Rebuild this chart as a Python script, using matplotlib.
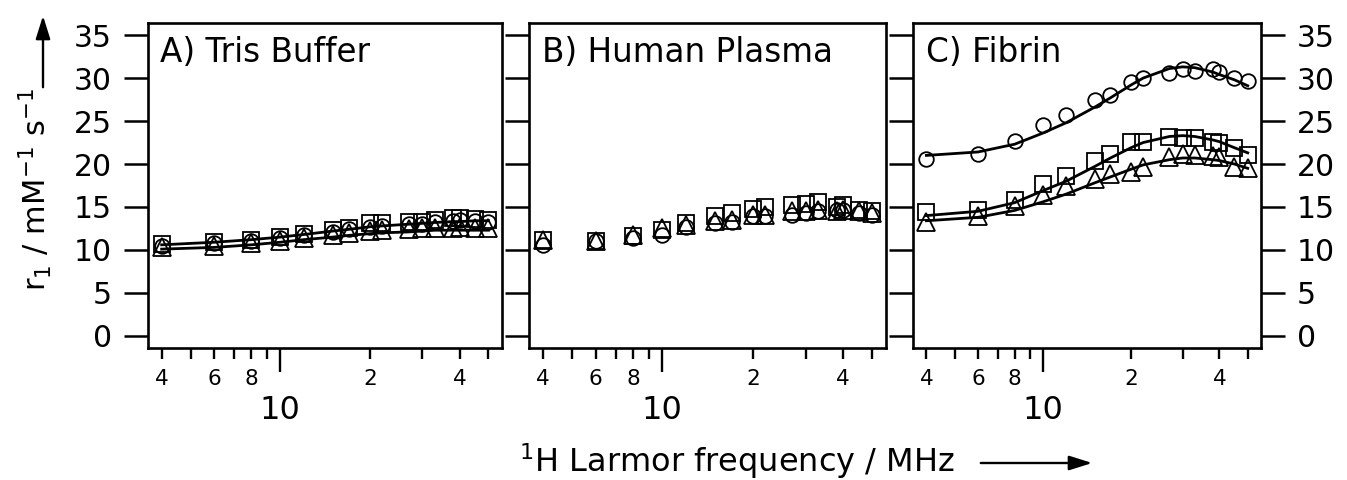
import matplotlib.pyplot as plt
from matplotlib.patches import FancyArrowPatch
from matplotlib.ticker import NullLocator

# --- data (MHz, r1 in mM^-1 s^-1) ---
freq = [4, 6, 8, 10, 12, 15, 17, 20, 22, 27, 30, 33, 38, 40, 45, 50]

# A) Tris buffer
tris_circ = [10.5, 10.8, 11.1, 11.4, 11.7, 12.1, 12.4, 12.7, 12.8, 13.0, 13.0, 13.2, 13.4, 13.5, 13.4, 13.3]
tris_sq = [10.7, 10.9, 11.2, 11.5, 11.9, 12.3, 12.6, 13.1, 13.1, 13.3, 13.2, 13.5, 13.7, 13.7, 13.6, 13.5]
tris_tri = [10.4, 10.5, 10.8, 11.1, 11.4, 11.7, 12.0, 12.2, 12.3, 12.4, 12.5, 12.6, 12.6, 12.7, 12.6, 12.6]
tris_fit_hi = [10.6, 10.9, 11.2, 11.5, 11.8, 12.2, 12.4, 12.7, 12.8, 13.0, 13.1, 13.2, 13.3, 13.3, 13.4, 13.4]
tris_fit_lo = [10.1, 10.3, 10.6, 10.9, 11.2, 11.5, 11.7, 11.9, 12.0, 12.1, 12.2, 12.3, 12.3, 12.3, 12.3, 12.3]

# B) Human plasma
plas_circ = [10.6, 11.0, 11.4, 11.8, 12.7, 13.1, 13.3, 14.0, 13.9, 14.1, 14.3, 14.5, 14.7, 14.7, 14.3, 14.1]
plas_sq = [11.2, 11.1, 11.6, 12.3, 13.1, 13.9, 14.3, 14.8, 15.0, 15.2, 15.4, 15.6, 15.0, 15.2, 14.7, 14.5]
plas_tri = [11.2, 11.1, 11.7, 12.5, 12.9, 13.4, 13.5, 14.1, 14.1, 14.5, 14.5, 14.7, 14.5, 14.7, 14.5, 14.3]

# C) Fibrin
fib_circ = [20.6, 21.2, 22.7, 24.5, 25.7, 27.5, 28.0, 29.5, 30.0, 30.6, 31.0, 30.8, 31.0, 30.7, 30.0, 29.7]
fib_sq = [14.4, 14.7, 15.8, 17.7, 18.6, 20.3, 21.2, 22.6, 22.6, 23.1, 23.0, 23.0, 22.6, 22.4, 21.9, 21.0]
fib_tri = [13.3, 13.9, 15.1, 16.4, 17.4, 18.3, 18.8, 19.1, 19.6, 20.8, 21.2, 21.0, 20.9, 20.8, 19.7, 19.5]
fib_circ_fit = [21.0, 21.4, 22.3, 23.6, 24.8, 26.6, 27.7, 29.2, 30.0, 31.1, 31.3, 31.2, 30.7, 30.4, 29.8, 29.1]
fib_sq_fit = [14.0, 14.5, 15.5, 16.9, 18.0, 19.7, 20.7, 21.9, 22.5, 23.2, 23.3, 23.2, 22.8, 22.6, 21.9, 21.3]
fib_tri_fit = [13.4, 13.8, 14.6, 15.6, 16.5, 17.8, 18.5, 19.4, 19.9, 20.5, 20.7, 20.7, 20.5, 20.4, 20.0, 19.5]

panel_titles = ["A) Tris Buffer", "B) Human Plasma", "C) Fibrin"]
minor_ticks = [4, 5, 6, 7, 8, 9, 20, 30, 40, 50]
minor_labels = ["4", "", "6", "", "8", "", "2", "", "4", ""]

plt.rcParams['font.family'] = 'DejaVu Sans'
plt.rcParams['mathtext.fontset'] = 'dejavusans'

W, H = 1347, 480
fig = plt.figure(figsize=(W / 100, H / 100), dpi=100)
top, bottom = 23, 348
boxes = [(148, 502), (529, 886), (913, 1261)]

axes = []
for (l, r) in boxes:
    ax = fig.add_axes([l / W, 1 - bottom / H, (r - l) / W, (bottom - top) / H])
    ax.set_xscale('log')
    ax.set_xlim(3.6, 55.5)
    ax.set_ylim(-1.4, 36.4)
    ax.set_xticks([10])
    ax.set_xticklabels(['10'])
    ax.set_xticks(minor_ticks, minor=True)
    ax.set_xticklabels(minor_labels, minor=True)
    ax.tick_params(axis='x', which='major', length=17, width=1.7, pad=17, labelsize=23)
    ax.tick_params(axis='x', which='minor', length=8, width=1.7, pad=7, labelsize=15.5)
    ax.set_yticks(range(0, 36, 5))
    ax.yaxis.set_minor_locator(NullLocator())
    ax.tick_params(axis='y', length=17, width=1.8, labelsize=21.5, pad=9)
    for s in ax.spines.values():
        s.set_linewidth(1.9)
    axes.append(ax)

axes[1].tick_params(axis='y', labelleft=False)
axes[2].tick_params(axis='y', labelleft=False, right=True, labelright=True)

mk = dict(mfc='none', mec='black', mew=1.3, ls='none')
circ = dict(marker='o', ms=10.5, **mk)
sq = dict(marker='s', ms=11, **mk)
tri = dict(marker='^', ms=13, **mk)
fit = dict(color='black', lw=2.0)

ax = axes[0]
ax.plot(freq, tris_sq, **sq)
ax.plot(freq, tris_circ, **circ)
ax.plot(freq, tris_tri, **tri)
ax.plot(freq, tris_fit_hi, **fit)
ax.plot(freq, tris_fit_lo, **fit)

ax = axes[1]
ax.plot(freq, plas_sq, **sq)
ax.plot(freq, plas_circ, **circ)
ax.plot(freq, plas_tri, **tri)

ax = axes[2]
ax.plot(freq, fib_circ, **circ)
ax.plot(freq, fib_sq, **sq)
ax.plot(freq, fib_tri, **tri)
ax.plot(freq, fib_circ_fit, **fit)
ax.plot(freq, fib_sq_fit, **fit)
ax.plot(freq, fib_tri_fit, **fit)

for ax, t in zip(axes, panel_titles):
    ax.annotate(t, xy=(0, 1), xycoords='axes fraction', xytext=(9, -9),
                textcoords='offset points', ha='left', va='top', fontsize=23.5)

# axis labels with arrows
fig.text(35 / W, 1 - 190 / H, r"r$_1$ / mM$^{-1}$ s$^{-1}$", rotation=90,
         ha='center', va='center', fontsize=22)
fig.text(737 / W, 1 - 472 / H, r"$^{1}$H Larmor frequency / MHz",
         ha='center', va='baseline', fontsize=23)

arrow_style = '-|>,head_length=0.7,head_width=0.22'
fig.add_artist(FancyArrowPatch((43 / W, 1 - 90 / H), (43 / W, 1 - 13 / H),
                               transform=fig.transFigure, arrowstyle=arrow_style,
                               mutation_scale=20, lw=1.7, color='black'))
fig.add_artist(FancyArrowPatch((978 / W, 1 - 463 / H), (1095 / W, 1 - 463 / H),
                               transform=fig.transFigure, arrowstyle=arrow_style,
                               mutation_scale=20, lw=1.7, color='black'))

fig.savefig('out.png', dpi=100)
